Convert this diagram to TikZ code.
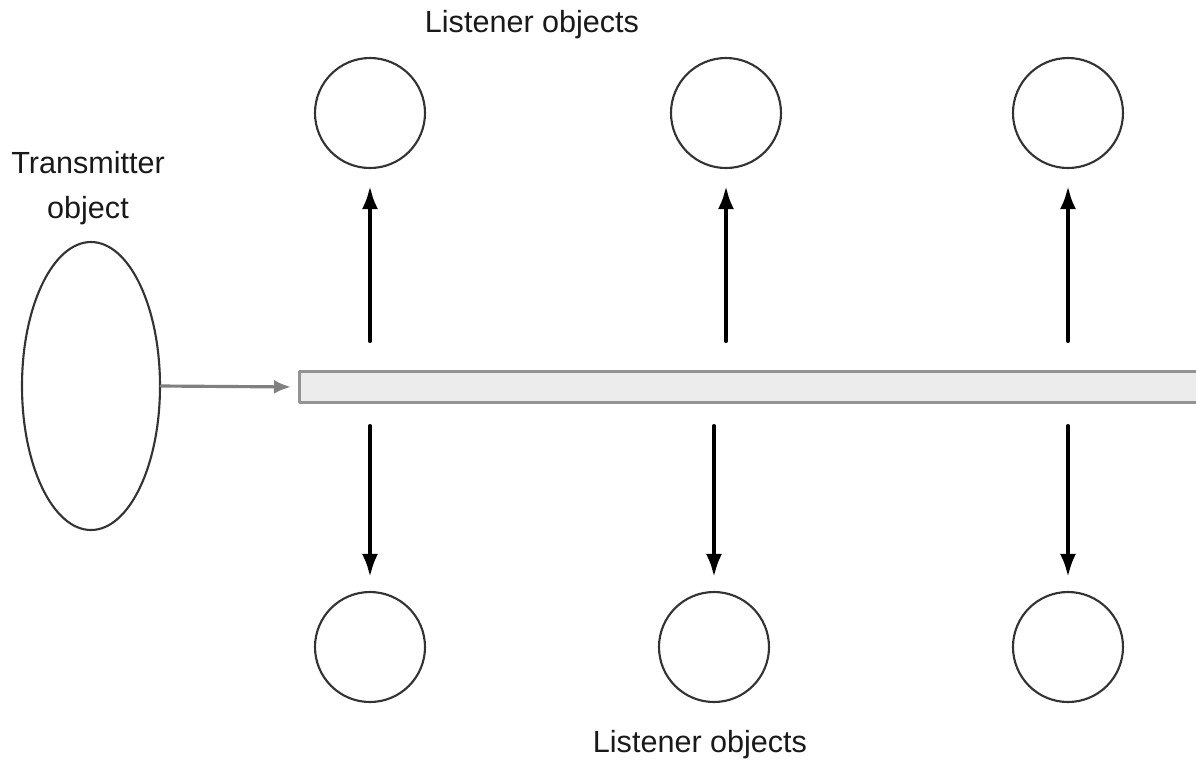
\documentclass[tikz,border=0pt]{standalone}
\usepackage{fontspec}
\setmainfont{Liberation Sans}
\usetikzlibrary{arrows.meta,shapes.geometric}

\begin{document}
\begin{tikzpicture}[x=.1mm,y=-.1mm,line cap=round,line join=round,
  caption/.style={font=\fontsize{8.7}{12.8}\selectfont,text=black!90,align=center},
  listener/.style={circle,draw=black!80,line width=.6pt,minimum size=11mm,inner sep=0pt},
  signal/.style={line width=1.1pt,-{Latex[length=2.3mm,width=1.6mm]}}]
  \useasboundingbox (0,0) rectangle (1196,766);
  % Transmitter and the shared channel bar.
  \node[ellipse,draw=black!80,line width=.6pt,minimum width=13.8mm,minimum height=28.8mm,inner sep=0pt] (tx) at (91,386) {};
  \node[caption] (txlabel) at (88,188) {Transmitter\\object};
  \node[draw=gray!85,fill=gray!15,line width=.8pt,anchor=west,minimum width=95mm,minimum height=3.1mm,inner sep=0pt] (bar) at (298,387) {};
  \draw[line width=.9pt,gray,shorten >=.7mm,-{Latex[length=1.7mm,width=1.4mm]}] (tx.east) -- (bar.west);
  % Listeners above and below the bar.
  \foreach \n/\xu/\xd in {1/370/370,2/726/714,3/1068/1068}{
    \node[listener] (up\n) at (\xu,113) {};
    \node[listener] (dn\n) at (\xd,647) {};
    \draw[signal,shorten <=2.9mm,shorten >=1.7mm] (bar.north -| up\n.south) -- (up\n.south);
    \draw[signal,shorten <=2.2mm,shorten >=1.4mm] (bar.south -| dn\n.north) -- (dn\n.north);
  }
  \node[caption] (uplabel) at (532,25) {Listener objects};
  \node[caption] (dnlabel) at (700,745) {Listener objects};
\end{tikzpicture}
\end{document}
